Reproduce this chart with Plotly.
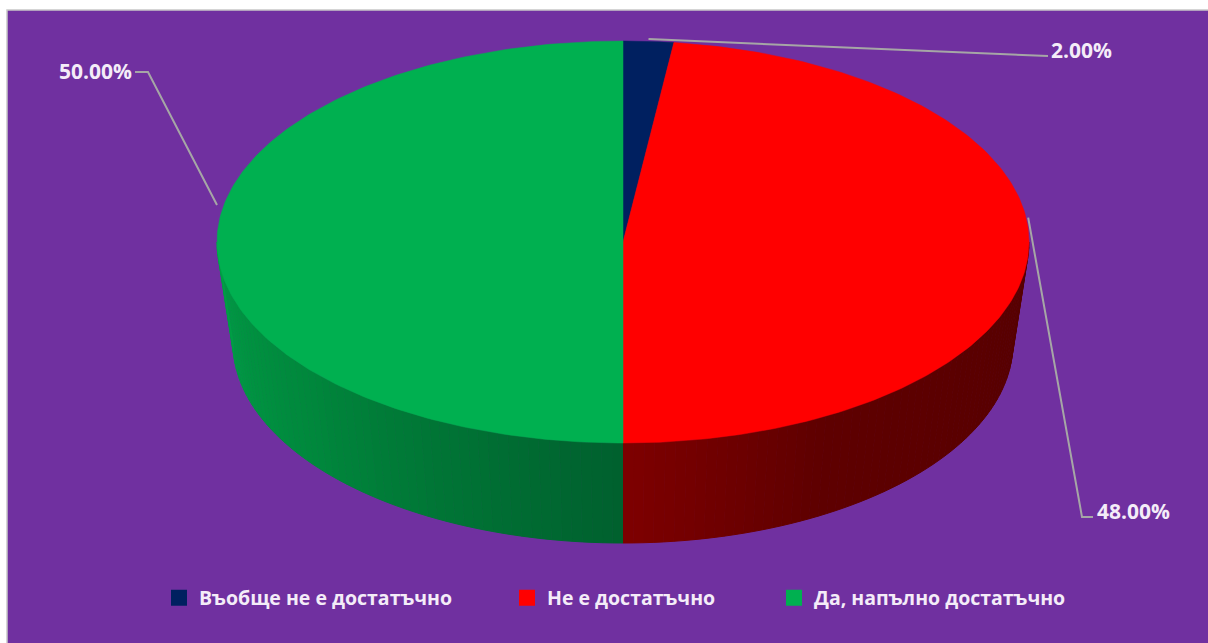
import numpy as np
import plotly.graph_objects as go

# Survey answers and their shares (%)
categories = ["Въобще не е достатъчно", "Не е достатъчно", "Да, напълно достатъчно"]
shares = [2.0, 48.0, 50.0]
top_colors = ["#002060", "#FF0000", "#00B050"]

# Side-wall shading stops per slice: (angle from 12 o'clock clockwise, rgb)
side_stops = {
    1: [(90, (86, 0, 0)), (150, (94, 0, 0)), (180, (126, 0, 0))],
    2: [(180, (0, 96, 46)), (232, (0, 136, 60)), (270, (0, 158, 70))],
}

# label placement (pixel space) and leader line elbows
label_pos = [(1049, 50, "left"), (1095, 511, "left"), (134, 71, "right")]
leader_elbow = [[(1048, 56)], [(1082, 517), (1093, 517)], [(148, 72), (135, 72)]]

W, H = 1208, 643
CX, CY, RX, RY = 623, 242, 406, 201        # top ellipse
BCY, BRX, BRY = 343, 390, 200              # bottom ellipse
PURPLE = "#7030A0"
TEXT = "#F4ECF8"
FONT = "Open Sans"

def top_pt(phi):
    r = np.radians(phi)
    return CX + RX * np.sin(r), CY - RY * np.cos(r)

def bot_pt(phi):
    r = np.radians(phi)
    return CX + BRX * np.sin(r), BCY - BRY * np.cos(r)

def interp_color(stops, phi):
    for (a0, c0), (a1, c1) in zip(stops[:-1], stops[1:]):
        if a0 <= phi <= a1:
            t = (phi - a0) / (a1 - a0)
            c = [round(c0[k] + t * (c1[k] - c0[k])) for k in range(3)]
            return f"rgb({c[0]},{c[1]},{c[2]})"
    c = stops[-1][1] if phi > stops[-1][0] else stops[0][1]
    return f"rgb({c[0]},{c[1]},{c[2]})"

fig = go.Figure()

total = sum(shares)
bounds = np.concatenate([[0], np.cumsum(shares) / total * 360])

# front side walls (visible between 90° and 270°)
for i in range(len(shares)):
    a0, a1 = max(bounds[i], 90), min(bounds[i + 1], 270)
    if a1 <= a0:
        continue
    n = max(2, int((a1 - a0) / 1.5))
    edges = np.linspace(a0, a1, n + 1)
    for s0, s1 in zip(edges[:-1], edges[1:]):
        ph = np.linspace(s0, s1, 4)
        xs = [top_pt(p)[0] for p in ph] + [bot_pt(p)[0] for p in ph[::-1]]
        ys = [top_pt(p)[1] for p in ph] + [bot_pt(p)[1] for p in ph[::-1]]
        col = interp_color(side_stops[i], (s0 + s1) / 2)
        fig.add_trace(go.Scatter(x=xs, y=ys, mode="lines", fill="toself",
                                 fillcolor=col, line=dict(color=col, width=1),
                                 showlegend=False, hoverinfo="skip"))

# top faces
for i in range(len(shares)):
    ph = np.linspace(bounds[i], bounds[i + 1], 200)
    xs = [CX] + [top_pt(p)[0] for p in ph] + [CX]
    ys = [CY] + [top_pt(p)[1] for p in ph] + [CY]
    fig.add_trace(go.Scatter(x=xs, y=ys, mode="lines", fill="toself",
                             fillcolor=top_colors[i],
                             line=dict(color=top_colors[i], width=0.5),
                             showlegend=False, hoverinfo="skip"))

# leader lines and value labels
annotations = []
for i, v in enumerate(shares):
    mid = (bounds[i] + bounds[i + 1]) / 2
    ax, ay = top_pt(mid)
    ay -= 37 * abs(np.sin(np.radians(mid)))
    pts = [(ax, ay)] + leader_elbow[i]
    fig.add_trace(go.Scatter(x=[p[0] for p in pts], y=[p[1] for p in pts],
                             mode="lines", line=dict(color="#A6A6A6", width=2),
                             showlegend=False, hoverinfo="skip"))
    lx, ly, anchor = label_pos[i]
    annotations.append(dict(x=lx, y=ly, xref="x", yref="y", text=f"<b>{v:.2f}%</b>",
                            showarrow=False, xanchor=anchor, yanchor="middle",
                            font=dict(family=FONT, size=21, color=TEXT)))

# legend entries, one legend box per category
legend_x = [171, 519, 786]
for i, name in enumerate(categories):
    key = "legend" if i == 0 else f"legend{i + 1}"
    fig.add_trace(go.Scatter(x=[None], y=[None], mode="markers", name=f"<b>{name}</b>",
                             marker=dict(symbol="square", size=16, color=top_colors[i]),
                             legend=key))

legend_common = dict(orientation="h", bgcolor="rgba(0,0,0,0)", borderwidth=0,
                     font=dict(family=FONT, size=19.5, color=TEXT),
                     xanchor="left", yanchor="middle", itemwidth=30)
layout_legends = {}
for i, lx in enumerate(legend_x):
    key = "legend" if i == 0 else f"legend{i + 1}"
    layout_legends[key] = dict(legend_common, x=(lx - 7 - 12) / (W - 7),
                               y=1 - (598 - 10) / (H - 10))

fig.update_layout(
    width=W, height=H,
    margin=dict(l=7, r=0, t=10, b=0),
    paper_bgcolor="white", plot_bgcolor=PURPLE,
    xaxis=dict(range=[7, W], visible=False, fixedrange=True),
    yaxis=dict(range=[H, 10], visible=False, fixedrange=True),
    hovermode=False,
    annotations=annotations,
    shapes=[dict(type="path", xref="paper", yref="paper",
                 path="M 0,0 L 0,1 L 1,1",
                 line=dict(color="#C8C8C8", width=1.5))],
    **layout_legends,
)

fig.write_html("out.html", config={"displayModeBar": False})
